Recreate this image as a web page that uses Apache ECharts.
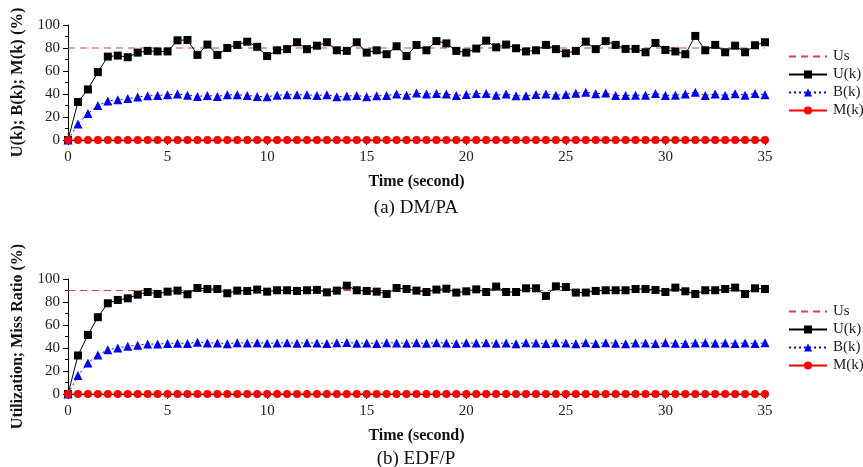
<!DOCTYPE html>
<html>
<head>
<meta charset="utf-8">
<script src="https://cdn.jsdelivr.net/npm/echarts@6/dist/echarts.min.js"></script>
<style>
  html, body { margin: 0; padding: 0; background: #fff; }
  #chart { width: 863px; height: 467px; }
</style>
</head>
<body>
<div id="chart"></div>
<script>
// Sampling instants (seconds), one every 0.5 s
var timeTicks = [];
for (var i = 0; i <= 70; i++) timeTicks.push(i / 2);

// (a) DM/PA
var setPointA = 80;
var utilA = [0, 33, 44, 59, 72.5, 73.4, 72, 76, 77.5, 77,
  77, 86.7, 87, 74, 83, 74, 80, 82.7, 85.5, 81,
  73, 78, 79, 85, 79, 82, 85, 78, 77.5, 85,
  76, 78, 74.6, 81.5, 73, 82.6, 78, 86, 84, 77.5,
  76, 79.5, 86.4, 80.6, 83, 79.8, 77, 78, 82.7, 79,
  75.4, 77.5, 85.5, 79, 86, 82.7, 79.2, 79.2, 76.3, 84.4,
  78.3, 77, 74.6, 90.5, 78, 82.7, 76.3, 82, 76.3, 82.4,
  85];
var backA = [0, 14, 23, 30, 34, 35, 36, 37.5, 38.4, 38.7,
  39.3, 40, 39, 37.9, 38.7, 37.9, 39.3, 39.3, 38.7, 37.9,
  37.6, 39, 39.3, 39.3, 39.3, 38.7, 39.3, 37.6, 38.2, 38.7,
  37.6, 38.4, 38.7, 39.9, 39, 40.8, 39.9, 40.5, 39.9, 38.7,
  39.6, 40.5, 40.5, 39, 39.9, 38.4, 38.4, 39.6, 39.9, 39,
  39.6, 40.7, 41.6, 40.2, 40.8, 38.7, 38.7, 39, 39, 40.5,
  38.7, 39, 39.9, 41.6, 38.7, 39.9, 38.7, 40.2, 39, 40.5,
  39.3];
var missA = [];
for (var i = 0; i <= 70; i++) missA.push(0);

// (b) EDF/P
var setPointB = 90;
var utilB = [0, 33.5, 51.4, 66.8, 78.9, 81.8, 83.2, 86.4, 88.7, 87,
  89, 89.9, 86.7, 92.2, 91.3, 91.3, 87.6, 89.9, 89.6, 90.8,
  89, 90.2, 90.2, 89.6, 90.2, 90.5, 88.4, 89.9, 94.2, 90.2,
  89.6, 89, 87, 92.2, 91.3, 89.9, 88.7, 90.8, 91.6, 88.2,
  89.3, 91, 88.7, 93.4, 88.7, 88.7, 91.9, 91.9, 85.3, 93.6,
  93, 88.2, 88.2, 89.6, 90.2, 90.2, 90.2, 91.3, 91.3, 90.5,
  88.7, 92.5, 89.3, 87, 90.2, 90.2, 91.3, 92.5, 87, 91.9,
  91.3];
var backB = [0, 16, 27, 34, 38.4, 40, 41.6, 42.5, 43.4, 43.4,
  44, 44.2, 44, 45, 44.4, 44.4, 43.8, 44.5, 44.3, 44.6,
  44.1, 44.4, 44.5, 44.2, 44.6, 44.3, 44, 44.5, 44.8, 44.2,
  44.4, 44, 44.6, 44.4, 44.2, 44.5, 44.1, 44.6, 44.3, 44,
  44.5, 44.3, 44.6, 44.2, 44.4, 43.8, 44.5, 44.3, 43.9, 44.5,
  44.4, 43.8, 44.5, 43.9, 44.6, 44.2, 43.7, 44.4, 44.3, 44,
  44.5, 44.1, 43.9, 44.4, 44.5, 44.2, 44.3, 44, 44.4, 43.9,
  44.5];
var missB = [];
for (var i = 0; i <= 70; i++) missB.push(0);

var seriesNames = ['Us', 'U(k)', 'B(k)', 'M(k)'];

var FONT = "'Liberation Serif', 'Times New Roman', serif";

function pairs(vals) {
  return vals.map(function (v, i) { return [timeTicks[i], v]; });
}

function xAxisFor(gridIndex) {
  return {
    type: 'value', gridIndex: gridIndex, min: 0, max: 35, interval: 5,
    name: 'Time (second)', nameLocation: 'middle', nameGap: 34,
    nameTextStyle: { fontFamily: FONT, fontSize: 16, fontWeight: 'bold', color: '#111' },
    axisLine: { show: true, onZero: false, lineStyle: { color: '#000', width: 1 } },
    axisTick: { show: true, length: 5, lineStyle: { color: '#000' } },
    axisLabel: { margin: 10, fontFamily: FONT, fontSize: 15, color: '#222' },
    splitLine: { show: false }
  };
}

function yAxisFor(gridIndex, title, size) {
  return {
    type: 'value', gridIndex: gridIndex, min: 0, max: 100, interval: 20,
    name: title, nameLocation: 'middle', nameGap: 42, nameRotate: 90,
    nameTextStyle: { fontFamily: FONT, fontSize: size, fontWeight: 'bold', color: '#111' },
    axisLine: { show: true, lineStyle: { color: '#000', width: 1 } },
    axisTick: { show: true, length: 5, lineStyle: { color: '#000' } },
    minorTick: { show: true, splitNumber: 2, length: 3, lineStyle: { color: '#000' } },
    axisLabel: { margin: 8, fontFamily: FONT, fontSize: 15, color: '#222' },
    splitLine: { show: false }
  };
}

function seriesFor(idx, setPoint, util, back, miss) {
  return [
    { name: seriesNames[0], type: 'line', xAxisIndex: idx, yAxisIndex: idx,
      data: [[0, setPoint], [35, setPoint]], symbol: 'none', silent: true,
      lineStyle: { color: '#e04040', width: 1.2, type: [7, 5] }, itemStyle: { color: '#e04040' }, z: 1 },
    { name: seriesNames[1], type: 'line', xAxisIndex: idx, yAxisIndex: idx,
      data: pairs(util), symbol: 'rect', symbolSize: 8,
      lineStyle: { color: '#000', width: 1 }, itemStyle: { color: '#000' }, z: 2 },
    { name: seriesNames[2], type: 'line', xAxisIndex: idx, yAxisIndex: idx,
      data: pairs(back), symbol: 'triangle', symbolSize: 9,
      lineStyle: { color: '#0000ff', width: 1, type: [2, 3] }, itemStyle: { color: '#0000ff' }, z: 3 },
    { name: seriesNames[3], type: 'line', xAxisIndex: idx, yAxisIndex: idx,
      data: pairs(miss), symbol: 'circle', symbolSize: 8,
      lineStyle: { color: '#ff0000', width: 1 }, itemStyle: { color: '#ff0000' }, z: 4 }
  ];
}

function legendAt(top) {
  return {
    orient: 'vertical', left: 788, top: top, padding: 0,
    itemWidth: 38, itemHeight: 10, itemGap: 3,
    selectedMode: false,
    data: [
      { name: seriesNames[0], itemStyle: { opacity: 0 } },
      seriesNames[1], seriesNames[2], seriesNames[3]
    ],
    textStyle: { fontFamily: FONT, fontSize: 15, lineHeight: 14, color: '#222', padding: [0, 0, 0, 1] }
  };
}

var chart = echarts.init(document.getElementById('chart'), null, { renderer: 'canvas' });
chart.setOption({
  animation: false,
  backgroundColor: '#fff',
  grid: [
    { left: 68, top: 25, width: 697, height: 115 },
    { left: 68, top: 279, width: 697, height: 115 }
  ],
  xAxis: [xAxisFor(0), xAxisFor(1)],
  yAxis: [yAxisFor(0, 'U(k); B(k); M(k) (%)', 16.5), yAxisFor(1, 'Utilization; Miss Ratio (%)', 16)],
  legend: [legendAt(49), legendAt(304)],
  graphic: [
    { type: 'text', x: 416, y: 208, style: { text: '(a) DM/PA', font: '19px ' + FONT, fill: '#111', textAlign: 'center', textVerticalAlign: 'middle' } },
    { type: 'text', x: 416, y: 459, style: { text: '(b) EDF/P', font: '19px ' + FONT, fill: '#111', textAlign: 'center', textVerticalAlign: 'middle' } }
  ],
  series: seriesFor(0, setPointA, utilA, backA, missA)
    .concat(seriesFor(1, setPointB, utilB, backB, missB))
});
</script>
</body>
</html>
